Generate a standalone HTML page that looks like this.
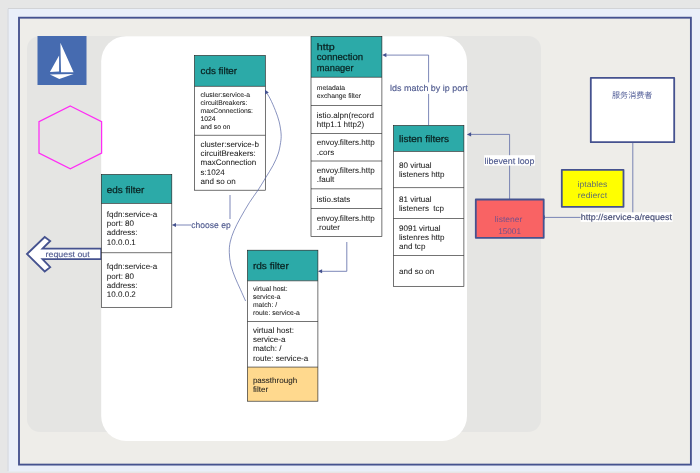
<!DOCTYPE html>
<html lang="en">
<head>
<meta charset="utf-8">
<title>envoy filters</title>
<style>
html,body{margin:0;padding:0;background:#e6e6e6;}
body{width:700px;height:473px;overflow:hidden;}
svg{display:block;will-change:transform;}
text{font-family:"Liberation Sans","Noto Sans CJK SC",sans-serif;white-space:pre;text-rendering:geometricPrecision;}
.h{fill:#0a2322;stroke:#0a2322;stroke-width:0.25;}
.b{fill:#1a1a1a;stroke:#1a1a1a;stroke-width:0.05;}
.l{fill:#4f5a8f;stroke:#4f5a8f;stroke-width:0.14;}
</style>
</head>
<body>
<svg width="700" height="473" viewBox="0 0 700 473">
<rect x="0" y="0" width="700" height="473" fill="#e6e6e6"/>
<rect x="7.5" y="8" width="693" height="463.5" fill="#eaeff9"/>
<path d="M8 471.3V8.5H700" fill="none" stroke="#d2d3d6" stroke-width="1"/>
<rect x="19" y="17.7" width="671.9" height="446.9" fill="#eeede9" stroke="#45528f" stroke-width="1.85"/>
<rect x="27" y="36" width="514" height="396" rx="13" ry="13" fill="#e5e5e3"/>
<rect x="101.2" y="36.2" width="365.8" height="404.8" rx="25" ry="25" fill="#ffffff"/>
<rect x="37.5" y="36" width="49" height="49" fill="#466bb0"/>
<path d="M60.4 42.7 L73.6 72.3 L61 72.3 Z M59.1 55.6 L59.1 71.4 L49.9 72.1 Z M49.9 74.4 L73.6 74 L59.3 78.9 Z" fill="#ffffff"/>
<path d="M70.3 106 L101.6 121.7 L101.6 153.1 L70.3 168.9 L39 153.1 L39 121.7 Z" fill="none" stroke="#ff2cf5" stroke-width="1.25"/>
<path d="M27 254 L44.7 237 L50.2 241 L42.5 248.6 L101.2 248.6 L101.2 259.2 L42.5 259.2 L50.2 267.1 L44.7 271.5 Z" fill="#ffffff" stroke="#45528f" stroke-width="1.8" stroke-linejoin="miter"/>
<text x="45.6" y="256.9" class="l" font-size="8.1" textLength="44.1" lengthAdjust="spacingAndGlyphs">request out</text>
<rect x="590.8" y="77.8" width="83.4" height="64.4" fill="#ffffff" stroke="#45528f" stroke-width="1.8" stroke-linejoin="round"/>
<text x="632.2" y="97.8" font-size="8.05" text-anchor="middle" style="fill:#55619a">服务消费者</text>
<path d="M632.8 143 V217.4 H545" fill="none" stroke="#5b68a6" stroke-width="0.8"/>
<path d="M540.6 217.4 l4.2 -2.05 v4.1 z" fill="#45528f"/>
<rect x="580.6" y="212.3" width="92" height="9.6" fill="#ffffff"/>
<text x="580.8" y="220.4" class="l" font-size="8.65" style="fill:#3c4266" textLength="91.2" lengthAdjust="spacingAndGlyphs">http://service-a/request</text>
<path d="M509.6 199 V134.4 H470" fill="none" stroke="#5b68a6" stroke-width="0.8"/>
<path d="M466.9 134.4 l4.2 -2.05 v4.1 z" fill="#45528f"/>
<rect x="484.2" y="155.2" width="50.7" height="10.4" fill="#ffffff"/>
<text x="484.6" y="163.5" class="l" font-size="8.65" textLength="49.9" lengthAdjust="spacingAndGlyphs">libevent loop</text>
<path d="M428.6 125 V55.1 H385" fill="none" stroke="#5b68a6" stroke-width="0.8"/>
<path d="M382.2 55.1 l4.2 -2.05 v4.1 z" fill="#45528f"/>
<rect x="390" y="82.4" width="77" height="11.5" fill="#ffffff"/>
<text x="390.1" y="91.4" class="l" font-size="8.65" textLength="77.6" lengthAdjust="spacingAndGlyphs">lds match by ip port</text>
<path d="M346.8 242 V271.3 H321" fill="none" stroke="#5b68a6" stroke-width="0.8"/>
<path d="M317.9 271.3 l4.2 -2.05 v4.1 z" fill="#45528f"/>
<path d="M230 195 V225 H175" fill="none" stroke="#5b68a6" stroke-width="0.8"/>
<path d="M171.8 225 l4.2 -2.05 v4.1 z" fill="#45528f"/>
<rect x="191" y="219" width="40" height="11" fill="#ffffff"/>
<text x="191.3" y="228" class="l" font-size="8.65" textLength="39.4" lengthAdjust="spacingAndGlyphs">choose ep</text>
<g>
<rect x="194.5" y="55.5" width="70.8" height="30.9" fill="#2caaa8"/>
<rect x="194.5" y="86.4" width="70.8" height="48.9" fill="#ffffff"/>
<rect x="194.5" y="135.3" width="70.8" height="54.9" fill="#ffffff"/>
<rect x="194.5" y="55.5" width="70.8" height="134.7" fill="none" stroke="#1c1c1c" stroke-width="0.62"/>
<line x1="194.5" y1="86.4" x2="265.3" y2="86.4" stroke="#1c1c1c" stroke-width="0.62"/>
<line x1="194.5" y1="135.3" x2="265.3" y2="135.3" stroke="#1c1c1c" stroke-width="0.62"/>
<text x="200.5" y="74.30" class="h" font-size="9.4" textLength="36.6" lengthAdjust="spacingAndGlyphs">cds filter</text>
<text x="200.5" y="96.80" class="b" font-size="6.8">cluster:service-a</text>
<text x="200.5" y="104.83" class="b" font-size="6.8">circuitBreakers:</text>
<text x="200.5" y="112.86" class="b" font-size="6.8">maxConnections:</text>
<text x="200.5" y="120.89" class="b" font-size="6.8">1024</text>
<text x="200.5" y="128.92" class="b" font-size="6.8">and so on</text>
<text x="200.5" y="146.70" class="b" font-size="8.04">cluster:service-b</text>
<text x="200.5" y="155.97" class="b" font-size="8.04">circuitBreakers:</text>
<text x="200.5" y="165.24" class="b" font-size="8.04">maxConnection</text>
<text x="200.5" y="174.51" class="b" font-size="8.04">s:1024</text>
<text x="200.5" y="183.78" class="b" font-size="8.04">and so on</text>
</g>
<g>
<rect x="101.3" y="174.5" width="70.5" height="29.0" fill="#2caaa8"/>
<rect x="101.3" y="203.5" width="70.5" height="49.2" fill="#ffffff"/>
<rect x="101.3" y="252.7" width="70.5" height="54.6" fill="#ffffff"/>
<rect x="101.3" y="174.5" width="70.5" height="132.8" fill="none" stroke="#1c1c1c" stroke-width="0.62"/>
<line x1="101.3" y1="203.5" x2="171.8" y2="203.5" stroke="#1c1c1c" stroke-width="0.62"/>
<line x1="101.3" y1="252.7" x2="171.8" y2="252.7" stroke="#1c1c1c" stroke-width="0.62"/>
<text x="106.8" y="192.60" class="h" font-size="9.4" textLength="37.5" lengthAdjust="spacingAndGlyphs">eds filter</text>
<text x="106.8" y="216.70" class="b" font-size="8.04">fqdn:service-a</text>
<text x="106.8" y="225.97" class="b" font-size="8.04">port: 80</text>
<text x="106.8" y="235.24" class="b" font-size="8.04">address:</text>
<text x="106.8" y="244.51" class="b" font-size="8.04">10.0.0.1</text>
<text x="106.8" y="269.30" class="b" font-size="8.04">fqdn:service-a</text>
<text x="106.8" y="278.57" class="b" font-size="8.04">port: 80</text>
<text x="106.8" y="287.84" class="b" font-size="8.04">address:</text>
<text x="106.8" y="297.11" class="b" font-size="8.04">10.0.0.2</text>
</g>
<g>
<rect x="311.0" y="36.4" width="70.9" height="40.9" fill="#2caaa8"/>
<rect x="311.0" y="77.3" width="70.9" height="28.2" fill="#ffffff"/>
<rect x="311.0" y="105.5" width="70.9" height="28.0" fill="#ffffff"/>
<rect x="311.0" y="133.5" width="70.9" height="27.5" fill="#ffffff"/>
<rect x="311.0" y="161.0" width="70.9" height="27.8" fill="#ffffff"/>
<rect x="311.0" y="188.8" width="70.9" height="19.7" fill="#ffffff"/>
<rect x="311.0" y="208.5" width="70.9" height="27.9" fill="#ffffff"/>
<rect x="311.0" y="36.4" width="70.9" height="200.0" fill="none" stroke="#1c1c1c" stroke-width="0.62"/>
<line x1="311.0" y1="77.3" x2="381.9" y2="77.3" stroke="#1c1c1c" stroke-width="0.62"/>
<line x1="311.0" y1="105.5" x2="381.9" y2="105.5" stroke="#1c1c1c" stroke-width="0.62"/>
<line x1="311.0" y1="133.5" x2="381.9" y2="133.5" stroke="#1c1c1c" stroke-width="0.62"/>
<line x1="311.0" y1="161.0" x2="381.9" y2="161.0" stroke="#1c1c1c" stroke-width="0.62"/>
<line x1="311.0" y1="188.8" x2="381.9" y2="188.8" stroke="#1c1c1c" stroke-width="0.62"/>
<line x1="311.0" y1="208.5" x2="381.9" y2="208.5" stroke="#1c1c1c" stroke-width="0.62"/>
<text x="316.8" y="49.60" class="h" font-size="9.4" textLength="17.8" lengthAdjust="spacingAndGlyphs">http</text>
<text x="316.8" y="60.20" class="h" font-size="9.4" textLength="46.3" lengthAdjust="spacingAndGlyphs">connection</text>
<text x="316.8" y="70.80" class="h" font-size="9.4" textLength="36.7" lengthAdjust="spacingAndGlyphs">manager</text>
<text x="316.8" y="89.70" class="b" font-size="6.8">metadata</text>
<text x="316.8" y="97.73" class="b" font-size="6.8">exchange filter</text>
<text x="316.8" y="117.50" class="b" font-size="8.04">istio.alpn(record</text>
<text x="316.8" y="126.77" class="b" font-size="8.04">http1.1 http2)</text>
<text x="316.8" y="145.40" class="b" font-size="8.04">envoy.filters.http</text>
<text x="316.8" y="154.67" class="b" font-size="8.04">.cors</text>
<text x="316.8" y="173.20" class="b" font-size="8.04">envoy.filters.http</text>
<text x="316.8" y="182.47" class="b" font-size="8.04">.fault</text>
<text x="316.8" y="201.70" class="b" font-size="8.04">istio.stats</text>
<text x="316.8" y="220.80" class="b" font-size="8.04">envoy.filters.http</text>
<text x="316.8" y="230.07" class="b" font-size="8.04">.router</text>
</g>
<g>
<rect x="393.5" y="125.5" width="70.4" height="26.0" fill="#2caaa8"/>
<rect x="393.5" y="151.5" width="70.4" height="36.1" fill="#ffffff"/>
<rect x="393.5" y="187.6" width="70.4" height="30.9" fill="#ffffff"/>
<rect x="393.5" y="218.5" width="70.4" height="37.0" fill="#ffffff"/>
<rect x="393.5" y="255.5" width="70.4" height="30.8" fill="#ffffff"/>
<rect x="393.5" y="125.5" width="70.4" height="160.8" fill="none" stroke="#1c1c1c" stroke-width="0.62"/>
<line x1="393.5" y1="151.5" x2="463.9" y2="151.5" stroke="#1c1c1c" stroke-width="0.62"/>
<line x1="393.5" y1="187.6" x2="463.9" y2="187.6" stroke="#1c1c1c" stroke-width="0.62"/>
<line x1="393.5" y1="218.5" x2="463.9" y2="218.5" stroke="#1c1c1c" stroke-width="0.62"/>
<line x1="393.5" y1="255.5" x2="463.9" y2="255.5" stroke="#1c1c1c" stroke-width="0.62"/>
<text x="399.0" y="141.80" class="h" font-size="9.4" textLength="50.1" lengthAdjust="spacingAndGlyphs">listen filters</text>
<text x="399.0" y="168.00" class="b" font-size="8.04">80 virtual</text>
<text x="399.0" y="177.27" class="b" font-size="8.04">listeners http</text>
<text x="399.0" y="201.50" class="b" font-size="8.04">81 virtual</text>
<text x="399.0" y="210.77" class="b" font-size="8.04">listeners  tcp</text>
<text x="399.0" y="230.90" class="b" font-size="8.04">9091 virtual</text>
<text x="399.0" y="240.17" class="b" font-size="8.04">listenres http</text>
<text x="399.0" y="249.44" class="b" font-size="8.04">and tcp</text>
<text x="399.0" y="273.50" class="b" font-size="8.04">and so on</text>
</g>
<g>
<rect x="247.5" y="250.2" width="70.4" height="30.6" fill="#2caaa8"/>
<rect x="247.5" y="280.8" width="70.4" height="40.7" fill="#ffffff"/>
<rect x="247.5" y="321.5" width="70.4" height="45.6" fill="#ffffff"/>
<rect x="247.5" y="367.1" width="70.4" height="34.1" fill="#ffd98e"/>
<rect x="247.5" y="250.2" width="70.4" height="151.0" fill="none" stroke="#1c1c1c" stroke-width="0.62"/>
<line x1="247.5" y1="280.8" x2="317.9" y2="280.8" stroke="#1c1c1c" stroke-width="0.62"/>
<line x1="247.5" y1="321.5" x2="317.9" y2="321.5" stroke="#1c1c1c" stroke-width="0.62"/>
<line x1="247.5" y1="367.1" x2="317.9" y2="367.1" stroke="#1c1c1c" stroke-width="0.62"/>
<text x="252.9" y="269.00" class="h" font-size="9.4" textLength="35.9" lengthAdjust="spacingAndGlyphs">rds filter</text>
<text x="252.9" y="290.80" class="b" font-size="6.8">virtual host:</text>
<text x="252.9" y="298.83" class="b" font-size="6.8">service-a</text>
<text x="252.9" y="306.86" class="b" font-size="6.8">match: /</text>
<text x="252.9" y="314.89" class="b" font-size="6.8">route: service-a</text>
<text x="252.9" y="332.80" class="b" font-size="8.04">virtual host:</text>
<text x="252.9" y="342.07" class="b" font-size="8.04">service-a</text>
<text x="252.9" y="351.34" class="b" font-size="8.04">match: /</text>
<text x="252.9" y="360.61" class="b" font-size="8.04">route: service-a</text>
<text x="252.9" y="382.50" class="b" font-size="8.04">passthrough</text>
<text x="252.9" y="391.77" class="b" font-size="8.04">filter</text>
</g>
<path d="M245.6 301 C244.7 299.1 242.1 293.2 240.4 289.4 C238.7 285.6 236.9 282.0 235.3 278 C233.7 274.0 231.9 269.5 230.9 265.3 C229.9 261.1 229.4 256.5 229.3 252.6 C229.2 248.7 229.4 245.7 230.2 242 C231.0 238.3 232.3 234.6 234 230.6 C235.7 226.6 237.8 222.6 240.4 217.9 C243.0 213.2 246.4 207.3 249.3 202.7 C252.2 198.0 255.4 194.1 258.1 190 C260.8 185.9 262.9 182.2 265.4 178.1 C267.9 174.0 270.9 169.5 273 165.5 C275.1 161.5 276.8 157.8 278.1 154 C279.4 150.2 280.1 145.9 280.6 142.6 C281.1 139.3 281.3 137.4 281.1 134 C280.9 130.6 280.1 125.8 279.2 121.9 C278.2 118.0 276.9 114.3 275.4 110.5 C273.9 106.7 271.8 102.0 270.3 99 C268.8 96.0 267.1 93.6 266.5 92.5" fill="none" stroke="#5b68a6" stroke-width="0.72"/>
<path d="M265 89.8 L268.8 92.4 L265 94.4 Z" fill="#45528f"/>
<rect x="475.8" y="199.5" width="67.9" height="38.3" fill="#f96364" stroke="#45528f" stroke-width="1.8" stroke-linejoin="round"/>
<text x="508.6" y="222.2" font-size="8.2" text-anchor="middle" style="fill:#75508a" textLength="27.5" lengthAdjust="spacingAndGlyphs">listener</text>
<text x="509.6" y="233.5" font-size="8.2" text-anchor="middle" style="fill:#75508a" textLength="22.8" lengthAdjust="spacingAndGlyphs">15001</text>
<rect x="561.8" y="169.8" width="61.7" height="37" fill="#ffff00" stroke="#45528f" stroke-width="1.8" stroke-linejoin="round"/>
<text x="592.5" y="186.5" font-size="8.2" text-anchor="middle" style="fill:#62706c" textLength="29.9" lengthAdjust="spacingAndGlyphs">iptables</text>
<text x="592.5" y="197.5" font-size="8.2" text-anchor="middle" style="fill:#62706c" textLength="29.3" lengthAdjust="spacingAndGlyphs">redierct</text>
</svg>
</body>
</html>
